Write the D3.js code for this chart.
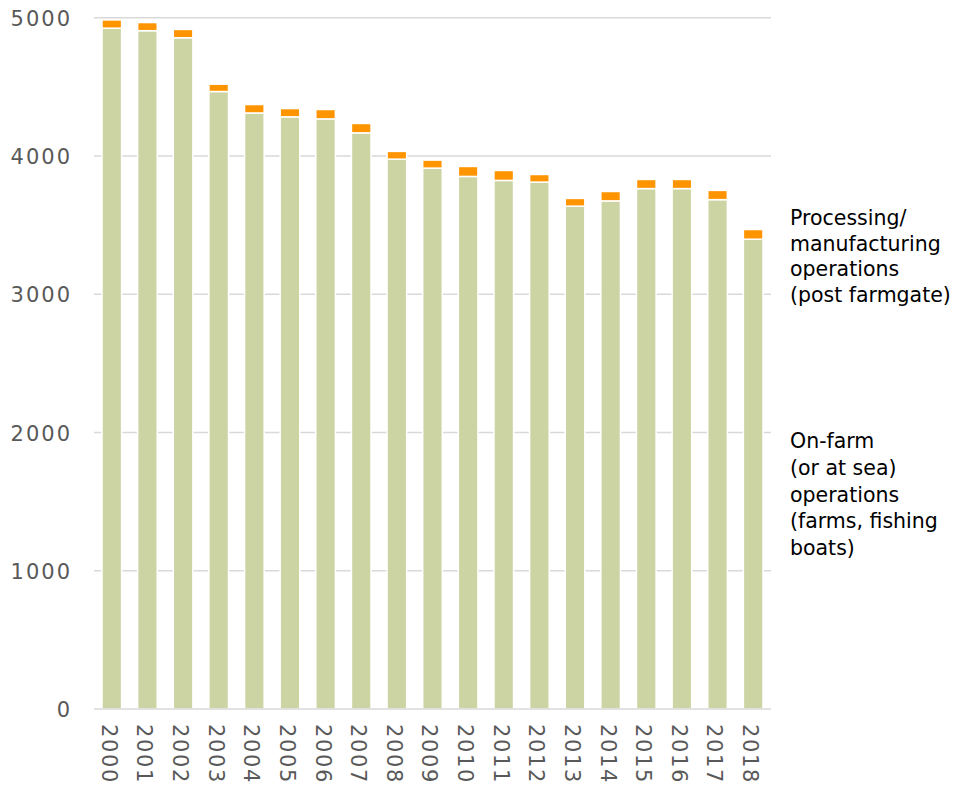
<!DOCTYPE html>
<html>
<head>
<meta charset="utf-8">
<script src="https://cdn.jsdelivr.net/npm/d3@7"></script>
<style>
  html, body { margin: 0; padding: 0; background: #fff; }
  svg { display: block; }
</style>
</head>
<body>
<svg id="chart" width="958" height="787"></svg>
<script>
// Years on the category axis
const years = ["2000","2001","2002","2003","2004","2005","2006","2007","2008","2009",
               "2010","2011","2012","2013","2014","2015","2016","2017","2018"];
// On-farm (or at sea) operations
const onFarm = [4924,4906,4855,4466,4311,4283,4268,4167,3977,3912,
                3852,3823,3811,3637,3675,3764,3764,3684,3398];
// Processing / manufacturing operations (post farmgate)
const processing = [60,59,60,53,61,60,68,68,56,58,
                    72,72,55,56,68,66,66,67,70];
// Value axis ticks
const yTicks = [0,1000,2000,3000,4000,5000];

const seriesLabels = [
  { key: "processing", lines: ["Processing/","manufacturing","operations","(post farmgate)"], y: 218, step: 25.5 },
  { key: "onFarm", lines: ["On-farm","(or at sea)","operations","(farms, fishing","boats)"], y: 441, step: 26.7 }
];

const colors = { onFarm: "#CDD4A4", processing: "#FE9400" };

const svg = d3.select("#chart");
const plot = { left: 94, right: 771, top: 17.7, bottom: 709 };

const x = d3.scaleBand()
  .domain(years)
  .range([plot.left, plot.right])
  .paddingInner(0.45)
  .paddingOuter(0.225);

const y = d3.scaleLinear()
  .domain([0, 5000])
  .range([plot.bottom, plot.top]);

// Horizontal gridlines
svg.append("g")
  .selectAll("line")
  .data(yTicks.filter(d => d > 0))
  .join("line")
  .attr("x1", plot.left)
  .attr("x2", plot.right)
  .attr("y1", d => y(d))
  .attr("y2", d => y(d))
  .attr("stroke", "#D9D9D9")
  .attr("stroke-width", 1.5);

// Stacked bars
const rows = years.map((yr, i) => ({ year: yr, onFarm: onFarm[i], processing: processing[i] }));
const stack = d3.stack().keys(["onFarm", "processing"]);
const layers = stack(rows);

svg.append("g")
  .selectAll("g")
  .data(layers)
  .join("g")
  .attr("fill", d => colors[d.key])
  .selectAll("rect")
  .data(d => d)
  .join("rect")
  .attr("x", d => x(d.data.year))
  .attr("width", x.bandwidth())
  .attr("y", d => y(d[1]))
  .attr("height", d => y(d[0]) - y(d[1]))
  .attr("stroke", "#fff")
  .attr("stroke-width", 1.5);

// Category baseline
svg.append("line")
  .attr("x1", plot.left)
  .attr("x2", plot.right)
  .attr("y1", y(0))
  .attr("y2", y(0))
  .attr("stroke", "#D9D9D9")
  .attr("stroke-width", 1.5);

const axisFont = "'DejaVu Sans', sans-serif";

// Value axis labels
const yAxis = d3.axisLeft(y).tickValues(yTicks).tickSize(0).tickPadding(0).tickFormat(d3.format("d"));
const yg = svg.append("g")
  .attr("transform", `translate(${72},0)`)
  .call(yAxis);
yg.select(".domain").remove();
yg.selectAll("text")
  .attr("fill", "#595959")
  .attr("font-family", axisFont)
  .attr("font-size", 21)
  .attr("letter-spacing", 2)
  .attr("dy", "0.36em");

// Category labels, rotated to read downward
svg.append("g")
  .selectAll("text")
  .data(years)
  .join("text")
  .attr("transform", d => `translate(${x(d) + x.bandwidth() / 2 - 2.5},${724}) rotate(90)`)
  .attr("dy", "0.36em")
  .attr("text-anchor", "start")
  .attr("fill", "#595959")
  .attr("font-family", axisFont)
  .attr("font-size", 21)
  .attr("letter-spacing", 1.6)
  .text(d => d);

// Series labels at the right
const lg = svg.append("g")
  .selectAll("text")
  .data(seriesLabels)
  .join("text")
  .attr("x", 790)
  .attr("y", d => d.y)
  .attr("fill", "#000")
  .attr("font-family", axisFont)
  .attr("font-size", 20.5);
lg.selectAll("tspan")
  .data(d => d.lines.map((t, i) => ({ t, i, step: d.step })))
  .join("tspan")
  .attr("x", 790)
  .attr("dy", d => d.i === 0 ? "0.36em" : d.step)
  .text(d => d.t);
</script>
</body>
</html>
